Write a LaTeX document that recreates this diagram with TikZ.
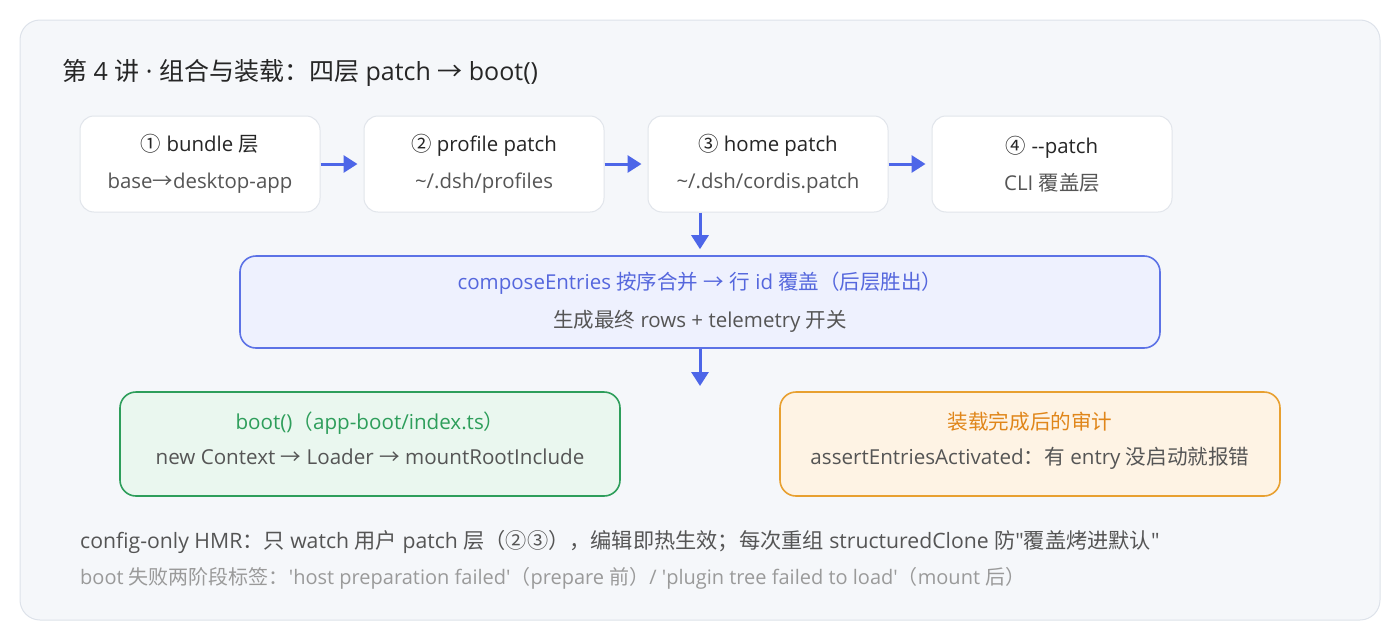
\documentclass[tikz,border=0pt]{standalone}
\usepackage{fontspec}
\setmainfont{Open Sans}[Ligatures=TeXOff]
\newfontfamily\cjkfont{Noto Sans CJK SC}
\usepackage{tikz}
\usetikzlibrary{arrows.meta}
\usetikzlibrary{positioning}

% CJK characters, fullwidth punctuation, circled digits and arrows use the CJK face
\XeTeXinterchartokenstate=1
\newXeTeXintercharclass\cjkclass
\newcount\cjkcode
\def\markcjk#1#2{\cjkcode=#1\relax
  \loop\ifnum\cjkcode<#2\relax
    \XeTeXcharclass\cjkcode=\cjkclass
    \advance\cjkcode by 1
  \repeat}
\markcjk{"4E00}{"A000}
\markcjk{"3000}{"3040}
\markcjk{"FF00}{"FFF0}
\markcjk{"2460}{"2500}
\markcjk{"2190}{"2200}
\XeTeXinterchartoks 0 \cjkclass = {\cjkfont}
\XeTeXinterchartoks 4095 \cjkclass = {\cjkfont}
\XeTeXinterchartoks \cjkclass 0 = {\rmfamily}
\XeTeXinterchartoks \cjkclass 4095 = {\rmfamily}

\definecolor{panel}{HTML}{F5F7FA}
\definecolor{panelline}{HTML}{DDE2EA}
\definecolor{boxline}{HTML}{E1E5EB}
\definecolor{ink}{HTML}{262626}
\definecolor{subink}{HTML}{555555}
\definecolor{faint}{HTML}{9A9A9A}
\definecolor{flow}{HTML}{4D66E8}
\definecolor{mergefill}{HTML}{EEF1FE}
\definecolor{mergeline}{HTML}{5C72E6}
\definecolor{mergetext}{HTML}{5567DD}
\definecolor{bootfill}{HTML}{EAF7EF}
\definecolor{bootline}{HTML}{2E9E5B}
\definecolor{auditfill}{HTML}{FEF3E4}
\definecolor{auditline}{HTML}{E8A030}
\definecolor{audittext}{HTML}{E0861A}

\tikzset{
  layer/.style={draw=boxline, line width=1pt, fill=white, rounded corners=14pt,
    minimum width=240pt, minimum height=96pt, align=center, text=subink,
    font=\fontsize{20.4}{37}\selectfont},
  wide/.style={rounded corners=16pt, line width=1.6pt, align=center,
    font=\fontsize{20.5}{38}\selectfont},
  outcome/.style={wide, minimum width=500pt, minimum height=104pt, text depth=11pt,
    font=\fontsize{20.6}{35}\selectfont},
  flowarrow/.style={draw=flow, line width=3pt,
    -{Triangle[length=14pt,width=17pt]}, shorten >=6pt},
  footnote/.style={anchor=west, inner sep=0pt}
}

\begin{document}
\begin{tikzpicture}[x=1pt,y=-1pt]
\useasboundingbox (0,0) rectangle (1400,640);
\draw [fill=panel, draw=panelline, line width=1pt, rounded corners=20pt] (20,20) rectangle (1380,620);
\node [anchor=west, inner sep=0pt, text=ink, font=\fontsize{25}{28}\selectfont] (title) at (62,73)
  {第 4 讲 · 组合与装载：四层 patch → boot()};

\node [layer] (b1) at (200,164) {{\color{ink}① bundle 层}\\base→desktop-app};
\node [layer] (b2) at (484,164) {{\color{ink}② profile patch}\\\textasciitilde/.dsh/profiles};
\node [layer] (b3) at (768,164) {{\color{ink}③ home patch}\\\textasciitilde/.dsh/cordis.patch};
\node [layer] (b4) at (1052,164) {{\color{ink}④ --patch}\\CLI 覆盖层};
\foreach \a/\b in {b1/b2,b2/b3,b3/b4}
  \draw [flowarrow] (\a.east) -- (\b.west);

\node [wide, draw=mergeline, fill=mergefill, minimum width=920pt, minimum height=92pt] (merge) at (700,302)
  {{\color{mergetext}composeEntries 按序合并 → 行 id 覆盖（后层胜出）}\\{\color{subink}生成最终 rows + telemetry 开关}};
\draw [flowarrow] (b3.south -| merge.north) -- (merge.north);

\node [outcome, draw=bootline, fill=bootfill] (boot) at (370,444)
  {{\color{bootline}boot()（app-boot/index.ts）}\\{\color{subink}new Context → Loader → mountRootInclude}};
\node [outcome, draw=auditline, fill=auditfill] (audit) at (1030,444)
  {{\color{audittext}装载完成后的审计}\\{\color{subink}assertEntriesActivated：有 entry 没启动就报错}};
\coordinate (split) at (700,392);
\draw [flowarrow] (merge.south) -- (split);

\node [footnote, text=subink, font=\fontsize{21.2}{23}\selectfont] (hmr) at (80,542)
  {config-only HMR：只 watch 用户 patch 层（②③），编辑即热生效；每次重组 structuredClone 防"覆盖烤进默认"};
\node [footnote, text=faint, font=\fontsize{20}{22}\selectfont] (fail) at (80,578)
  {boot 失败两阶段标签：\textquotesingle host preparation failed\textquotesingle（prepare 前）/ \textquotesingle plugin tree failed to load\textquotesingle（mount 后）};
\end{tikzpicture}
\end{document}
